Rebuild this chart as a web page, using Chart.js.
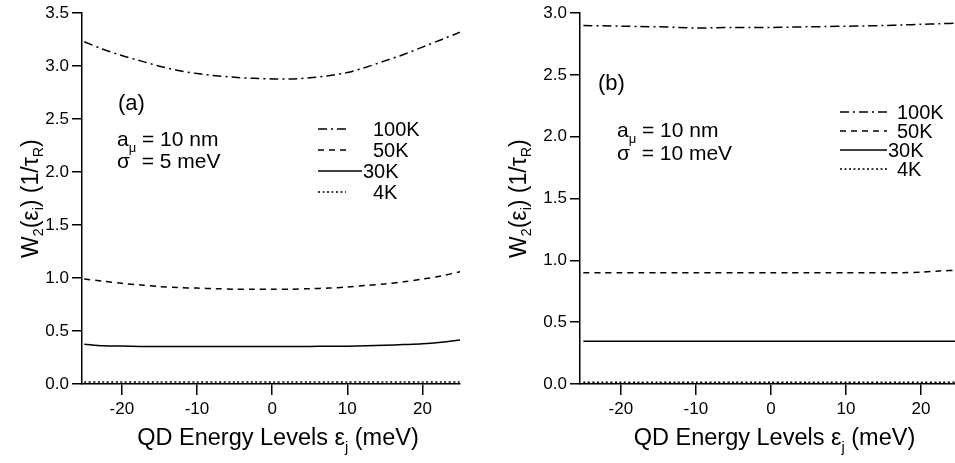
<!DOCTYPE html>
<html>
<head>
<meta charset="utf-8">
<script src="https://cdn.jsdelivr.net/npm/chart.js@4/dist/chart.umd.min.js"></script>
<style>
body { margin: 0; background: #fff; width: 955px; height: 463px; overflow: hidden; position: relative; }
canvas { position: absolute; top: 0; }
#chartA { left: 0; }
#chartB { left: 475px; }
</style>
</head>
<body>
<canvas id="chartA" width="475" height="463"></canvas>
<canvas id="chartB" width="480" height="463"></canvas>
<script>
// energy grid (meV)
const energy = [-25, -22.5, -20, -17.5, -15, -12.5, -10, -7.5, -5, -2.5, 0, 2.5, 5, 7.5, 10, 12.5, 15, 17.5, 20, 22.5, 25];
const tempLabels = ['100K', '50K', '30K', '4K'];
const xTicks = [-20, -10, 0, 10, 20];
const yTicksA = [0, 0.5, 1.0, 1.5, 2.0, 2.5, 3.0, 3.5];
const yTicksB = [0, 0.5, 1.0, 1.5, 2.0, 2.5, 3.0];

// (a) sigma = 5 meV
const a100K = [3.23, 3.16, 3.10, 3.05, 3.00, 2.96, 2.93, 2.91, 2.895, 2.885, 2.88, 2.88, 2.89, 2.91, 2.94, 2.99, 3.05, 3.11, 3.18, 3.25, 3.32];
const a50K  = [0.99, 0.97, 0.95, 0.935, 0.92, 0.91, 0.905, 0.90, 0.895, 0.895, 0.895, 0.895, 0.90, 0.905, 0.915, 0.93, 0.945, 0.965, 0.99, 1.02, 1.06];
const a30K  = [0.375, 0.36, 0.358, 0.355, 0.355, 0.355, 0.355, 0.355, 0.355, 0.355, 0.355, 0.355, 0.355, 0.356, 0.357, 0.36, 0.365, 0.372, 0.38, 0.395, 0.415];
const a4K   = [0.02, 0.02, 0.02, 0.02, 0.02, 0.02, 0.02, 0.02, 0.02, 0.02, 0.02, 0.02, 0.02, 0.02, 0.02, 0.02, 0.02, 0.02, 0.02, 0.02, 0.02];

// (b) sigma = 10 meV
const b100K = [2.90, 2.898, 2.895, 2.892, 2.89, 2.885, 2.88, 2.882, 2.885, 2.885, 2.885, 2.887, 2.89, 2.892, 2.895, 2.897, 2.90, 2.905, 2.91, 2.915, 2.92];
const b50K  = [0.90, 0.90, 0.90, 0.90, 0.90, 0.90, 0.90, 0.90, 0.90, 0.90, 0.90, 0.90, 0.90, 0.90, 0.90, 0.90, 0.90, 0.90, 0.905, 0.915, 0.92];
const b30K  = [0.345, 0.345, 0.345, 0.345, 0.345, 0.345, 0.345, 0.345, 0.345, 0.345, 0.345, 0.345, 0.345, 0.345, 0.345, 0.345, 0.345, 0.345, 0.345, 0.345, 0.345];
const b4K   = [0.015, 0.015, 0.015, 0.015, 0.015, 0.015, 0.015, 0.015, 0.015, 0.015, 0.015, 0.015, 0.015, 0.015, 0.015, 0.015, 0.015, 0.015, 0.015, 0.015, 0.015];

const FONT = '"Liberation Sans", Arial, Helvetica, sans-serif';
const dashes = [[9, 4, 2, 4], [6, 5], [], [2, 2.5]];

function font(size) { return size + 'px ' + FONT; }

// text with subscripts: parts = [[text, isSub], ...]
function drawRich(ctx, parts, x, y, size, align) {
  let w = 0;
  parts.forEach(p => { ctx.font = font(p[1] ? size * 0.62 : size); w += ctx.measureText(p[0]).width; });
  let cx = align === 'center' ? x - w / 2 : x;
  parts.forEach(p => {
    ctx.font = font(p[1] ? size * 0.62 : size);
    ctx.fillText(p[0], cx, y + (p[1] ? size * 0.3 : 0));
    cx += ctx.measureText(p[0]).width;
  });
}

const panelText = {
  id: 'panelText',
  afterDraw(chart, args, o) {
    const ctx = chart.ctx, ca = chart.chartArea;
    ctx.save();
    ctx.fillStyle = '#000';
    ctx.textAlign = 'left';
    ctx.textBaseline = 'alphabetic';
    drawRich(ctx, [[o.letter]], o.letterX, o.letterY, 22);
    drawRich(ctx, [['a'], ['\u03bc', 1], [' = 10 nm']], o.textX, o.textY, 21);
    drawRich(ctx, [['\u03c3  = ' + o.sigma + ' meV']], o.textX, o.textY + o.textStep, 21);

    // legend
    chart.data.datasets.forEach((ds, i) => {
      const y = o.legY + i * o.legStep;
      const len = i === 2 ? o.solidLen : o.lineLen;
      ctx.strokeStyle = '#000';
      ctx.lineWidth = ds.borderWidth;
      ctx.setLineDash(ds.borderDash);
      ctx.beginPath();
      ctx.moveTo(o.legX, y);
      ctx.lineTo(o.legX + len, y);
      ctx.stroke();
      ctx.setLineDash([]);
      ctx.textBaseline = 'middle';
      ctx.font = font(20);
      ctx.fillText(ds.label, i === 2 ? o.legX + len + 1 : o.labelX, y + 1);
    });

    // axis titles
    ctx.textBaseline = 'alphabetic';
    drawRich(ctx, [['QD Energy Levels \u03b5'], ['j', 1], [' (meV)']], (ca.left + ca.right) / 2 + 7, 445, 23.5, 'center');
    ctx.translate(o.yTitleX, (ca.top + ca.bottom) / 2);
    ctx.rotate(-Math.PI / 2);
    ctx.textBaseline = 'middle';
    drawRich(ctx, [['W'], ['2', 1], ['(\u03b5'], ['i', 1], [') (1/\u03c4'], ['R', 1], [')']], 0, 0, 23, 'center');
    ctx.restore();
  }
};

function makeChart(id, series, opts) {
  return new Chart(document.getElementById(id), {
    type: 'line',
    data: {
      datasets: series.map((vals, i) => ({
        label: tempLabels[i],
        data: energy.map((x, k) => ({ x: x, y: vals[k] })),
        borderColor: '#000',
        borderWidth: 1.5,
        borderDash: dashes[i],
        pointRadius: 0,
        tension: 0.3,
        fill: false
      }))
    },
    options: {
      responsive: false,
      animation: false,
      devicePixelRatio: 1,
      layout: { padding: { top: opts.padTop, right: opts.padRight, left: 0, bottom: 0 } },
      plugins: { legend: { display: false }, tooltip: { enabled: false }, panelText: opts.text },
      scales: {
        x: {
          type: 'linear', min: opts.xMin, max: opts.xMax,
          afterBuildTicks: s => { s.ticks = xTicks.map(v => ({ value: v })); },
          afterFit: s => { s.height = 79; },
          border: { display: true, color: '#000', width: 1.5 },
          grid: { drawOnChartArea: false, drawTicks: true, tickLength: 11, color: '#000', lineWidth: 1.5 },
          ticks: { color: '#000', font: { family: FONT, size: 17 }, padding: 4, maxRotation: 0 }
        },
        y: {
          min: 0, max: opts.yMax,
          afterBuildTicks: s => { s.ticks = opts.yTicks.map(v => ({ value: v })); },
          afterFit: s => { s.width = opts.yWidth; },
          border: { display: true, color: '#000', width: 1.5 },
          grid: { drawOnChartArea: false, drawTicks: true, tickLength: 10, color: '#000', lineWidth: 1.5 },
          ticks: { color: '#000', font: { family: FONT, size: 17 }, padding: 3, callback: v => v.toFixed(1) }
        }
      }
    },
    plugins: [panelText]
  });
}

makeChart('chartA', [a100K, a50K, a30K, a4K], {
  xMin: -25.3, xMax: 25, yMax: 3.5, yTicks: yTicksA, yWidth: 82, padTop: 10.7, padRight: 15,
  text: { letter: '(a)', letterX: 118, letterY: 110, sigma: 5, textX: 117, textY: 146, textStep: 22,
          legX: 318, lineLen: 28, solidLen: 44, labelX: 373, legY: 129, legStep: 21, yTitleX: 32 }
});

makeChart('chartB', [b100K, b50K, b30K, b4K], {
  xMin: -25.45, xMax: 24.55, yMax: 3.0, yTicks: yTicksB, yWidth: 105, padTop: 10.7, padRight: 0,
  text: { letter: '(b)', letterX: 123, letterY: 90, sigma: 10, textX: 142, textY: 137, textStep: 23,
          legX: 365, lineLen: 47, solidLen: 47, labelX: 422, legY: 112, legStep: 19, yTitleX: 45 }
});
</script>
</body>
</html>
